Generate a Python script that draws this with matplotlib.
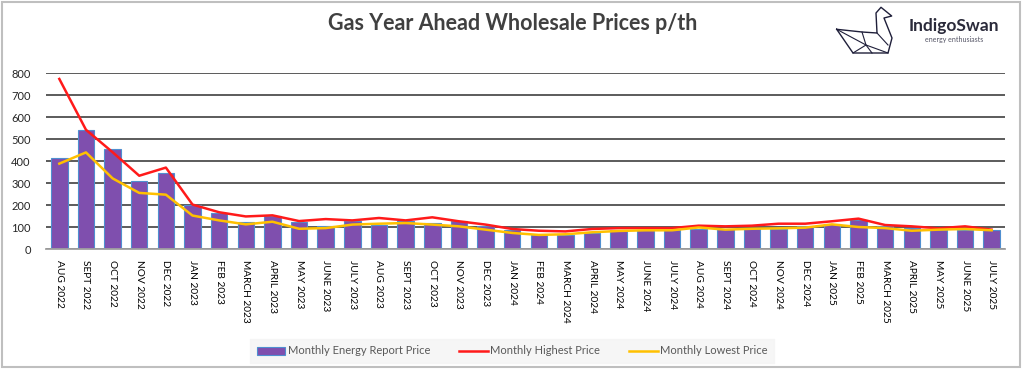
import matplotlib
matplotlib.use("Agg")
import matplotlib.pyplot as plt
from matplotlib.lines import Line2D
from matplotlib.patches import Rectangle, Patch
import numpy as np

plt.rcParams['font.family'] = ['Lato', 'DejaVu Sans']

months = ["AUG 2022", "SEPT 2022", "OCT 2022", "NOV 2022", "DEC 2022",
          "JAN 2023", "FEB 2023", "MARCH 2023", "APRIL 2023", "MAY 2023", "JUNE 2023",
          "JULY 2023", "AUG 2023", "SEPT 2023", "OCT 2023", "NOV 2023", "DEC 2023",
          "JAN 2024", "FEB 2024", "MARCH 2024", "APRIL 2024", "MAY 2024", "JUNE 2024",
          "JULY 2024", "AUG 2024", "SEPT 2024", "OCT 2024", "NOV 2024", "DEC 2024",
          "JAN 2025", "FEB 2025", "MARCH 2025", "APRIL 2025", "MAY 2025", "JUNE 2025",
          "JULY 2025"]

report_price = [412, 542, 455, 308, 344,
                198, 164, 124, 148, 123, 105,
                126, 111, 129, 118, 126, 106,
                88, 65, 65, 73, 88, 88,
                88, 92, 92, 92, 92, 103,
                115, 130, 106, 97, 88, 88,
                85]

highest_price = [773, 542, 440, 333, 370,
                 202, 167, 148, 153, 127, 136,
                 130, 141, 130, 144, 126, 111,
                 91, 83, 80, 91, 95, 95,
                 95, 106, 103, 106, 115, 115,
                 126, 138, 109, 103, 94, 103,
                 88]

lowest_price = [388, 439, 321, 255, 247,
                152, 130, 112, 124, 92, 95,
                111, 115, 118, 111, 103, 88,
                73, 64, 67, 76, 82, 85,
                85, 98, 88, 92, 94, 97,
                112, 100, 95, 83, 88, 91,
                85]

W, H = 1024, 370
fig = plt.figure(figsize=(W / 100, H / 100), dpi=100)
fig.patch.set_facecolor('white')

# figure border
fig.add_artist(Rectangle((2 / W, 3 / H), 1018 / W, 365 / H, transform=fig.transFigure,
                         fill=False, edgecolor='#bfbfbf', linewidth=1.5))

ax = fig.add_axes([46 / W, 1 - 249 / H, (1005 - 46) / W, (249 - 73) / H])
x = np.arange(len(months))
ax.bar(x, report_price, width=0.62, color='#7f4fae', edgecolor='#4f8fd0', linewidth=0.8, zorder=2)
ax.plot(x, highest_price, color='#ff1a1a', linewidth=1.8, zorder=3)
ax.plot(x, lowest_price, color='#ffc000', linewidth=1.8, zorder=3)

ax.set_xlim(-0.5, len(months) - 0.5)
ax.set_ylim(0, 800)
ax.set_yticks(np.arange(0, 801, 100))
ax.yaxis.grid(True, color='#404040', linewidth=1.2, zorder=0)
ax.set_axisbelow(True)
for s in ['top', 'right', 'left']:
    ax.spines[s].set_visible(False)
ax.spines['bottom'].set_color('#a0a0a0')
ax.spines['bottom'].set_linewidth(1.3)
ax.tick_params(axis='y', length=0, pad=11, labelsize=8, labelcolor='#262626')
ax.tick_params(axis='x', length=0, pad=8)
ax.set_xticks(x)
ax.set_xticklabels(months, rotation=270, fontsize=7.3, color='#000000', va='top', ha='center')

# title
fig.text(513 / W, 1 - 24 / H, "Gas Year Ahead Wholesale Prices p/th", ha='center', va='center',
         fontsize=15.5, fontweight='bold', color='#404040')

# logo
swan = [(836.7, 29.3), (853, 53), (888, 53), (892, 38), (884, 18), (891.7, 16), (881, 7.3),
        (876, 13), (877, 33), (862, 32), (836.7, 29.3)]
fig.add_artist(Line2D([p[0] / W for p in swan], [1 - p[1] / H for p in swan],
                      transform=fig.transFigure, color='#1f1f3a', linewidth=1.0))
inner = [[(836.7, 29.3), (866, 45), (888, 53)], [(853, 53), (866, 45), (872, 53)],
         [(862, 32), (866, 45)], [(877, 33), (888, 45)]]
for seg in inner:
    fig.add_artist(Line2D([p[0] / W for p in seg], [1 - p[1] / H for p in seg],
                          transform=fig.transFigure, color='#1f1f3a', linewidth=0.8))
fig.text(954 / W, 1 - 26 / H, "IndigoSwan", ha='center', va='center', fontsize=12.5,
         fontweight='bold', color='#2a2a3a')
fig.text(954 / W, 1 - 39.5 / H, "energy enthusiasts", ha='center', va='center', fontsize=5,
         color='#555566')

# legend
handles = [Patch(facecolor='#7f4fae', edgecolor='#4f8fd0', linewidth=0.8),
           Line2D([], [], color='#ff1a1a', linewidth=1.8),
           Line2D([], [], color='#ffc000', linewidth=1.8)]
labels = ["Monthly Energy Report Price", "Monthly Highest Price", "Monthly Lowest Price"]
leg = fig.legend(handles, labels, loc='center', bbox_to_anchor=(512 / W, 1 - 351 / H), ncol=3,
                 frameon=True, fontsize=8, handlelength=2.6, handletextpad=0.2,
                 columnspacing=2.6, borderpad=0.6, labelcolor='#595959')
leg.get_frame().set_facecolor('#f4f4f4')
leg.get_frame().set_edgecolor('#f4f4f4')
leg.get_frame().set_boxstyle('square', pad=0)

fig.savefig('out.png', dpi=100, facecolor='white')
